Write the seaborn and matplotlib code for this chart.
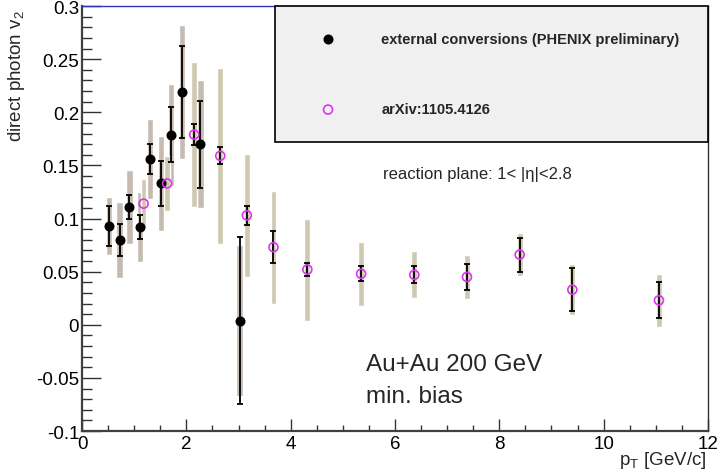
import numpy as np
import matplotlib
matplotlib.use("Agg")
import matplotlib.pyplot as plt
import seaborn as sns
from matplotlib.ticker import MultipleLocator, FuncFormatter

# external conversions (PHENIX preliminary)
ext_pt = [0.52, 0.72, 0.91, 1.11, 1.31, 1.51, 1.71, 1.91, 2.27, 3.02]
ext_v2 = [0.093, 0.080, 0.111, 0.092, 0.156, 0.133, 0.179, 0.219, 0.170, 0.004]
ext_stat = [0.019, 0.015, 0.011, 0.011, 0.014, 0.021, 0.026, 0.043, 0.041, 0.079]
ext_sys = [0.027, 0.036, 0.035, 0.033, 0.038, 0.045, 0.048, 0.063, 0.060, 0.071]

# arXiv:1105.4126
arx_pt = [1.18, 1.63, 2.15, 2.65, 3.16, 3.67, 4.32, 5.35, 6.37, 7.38, 8.39, 9.40, 11.06]
arx_v2 = [0.114, 0.133, 0.179, 0.159, 0.103, 0.073, 0.052, 0.048, 0.047, 0.045, 0.066, 0.033, 0.023]
arx_stat = [0.0, 0.0, 0.010, 0.008, 0.009, 0.015, 0.006, 0.007, 0.008, 0.012, 0.016, 0.020, 0.017]
arx_sys = [0.023, 0.026, 0.068, 0.083, 0.058, 0.053, 0.048, 0.030, 0.022, 0.021, 0.020, 0.024, 0.025]

sns.set_style("ticks")
plt.rcParams['font.family'] = ['Liberation Sans', 'DejaVu Sans']
plt.rcParams['mathtext.default'] = 'regular'
plt.rcParams['axes.unicode_minus'] = False

fig = plt.figure(figsize=(7.17, 4.77), dpi=100)
ax = fig.add_axes([0.1144, 0.0943, 0.873, 0.891])

# systematic bands
e_v, e_s = np.array(ext_v2), np.array(ext_sys)
a_v, a_s = np.array(arx_v2), np.array(arx_sys)
ax.bar(ext_pt, 2 * e_s, bottom=e_v - e_s, width=0.12, color='#c5bbb1', zorder=1)
ax.bar(arx_pt, 2 * a_s, bottom=a_v - a_s, width=0.11, color='#cec9b0', zorder=1)

# stat errors
ax.errorbar(ext_pt, ext_v2, yerr=ext_stat, fmt='none', ecolor='black',
            elinewidth=1.3, capsize=2.5, capthick=1.3, zorder=2)
a_st = np.array(arx_stat)
m = a_st > 0
ax.errorbar(np.array(arx_pt)[m], a_v[m], yerr=a_st[m], fmt='none', ecolor='black',
            elinewidth=1.3, capsize=2.5, capthick=1.3, zorder=2)

# markers
sns.scatterplot(x=ext_pt, y=ext_v2, ax=ax, color='black', s=52, linewidth=0,
                zorder=3, label='external conversions (PHENIX preliminary)')
sns.scatterplot(x=arx_pt, y=arx_v2, ax=ax, facecolor='none', edgecolor='#dd33ee',
                s=42, linewidth=1.2, zorder=3, label='arXiv:1105.4126')

ax.set_xlim(0, 12)
ax.set_ylim(-0.1, 0.3)
ax.xaxis.set_major_locator(MultipleLocator(2))
ax.xaxis.set_minor_locator(MultipleLocator(0.5))
ax.yaxis.set_major_locator(MultipleLocator(0.05))
ax.yaxis.set_minor_locator(MultipleLocator(0.01))
ax.yaxis.set_major_formatter(FuncFormatter(lambda v, p: '%g' % round(v, 3)))
ax.xaxis.set_major_formatter(FuncFormatter(lambda v, p: '%g' % v))

ax.tick_params(axis='both', which='both', direction='in', colors='#333333',
               labelcolor='black', labelsize=13.5, width=1)
ax.tick_params(axis='y', which='major', length=13.5, pad=2)
ax.tick_params(axis='y', which='minor', length=7)
ax.tick_params(axis='x', which='major', length=9, pad=3)
ax.tick_params(axis='x', which='minor', length=4.5)

for s in ['left', 'bottom']:
    ax.spines[s].set_color('#404040')
    ax.spines[s].set_linewidth(1.6)
ax.spines['right'].set_color('#333333')
ax.spines['right'].set_linewidth(1.0)
ax.spines['top'].set_color('#3333bb')
ax.spines['top'].set_linewidth(1.0)

ax.set_ylabel('direct photon v$_2$', loc='top', fontsize=13.5)
ax.yaxis.set_label_coords(-0.088, 0.993)
ax.set_xlabel('p$_T$ [GeV/c]', loc='right', fontsize=13.5)
ax.xaxis.set_label_coords(0.997, -0.042)

leg = ax.legend(loc='upper left', bbox_to_anchor=(0.308, 0.687, 0.692, 0.313),
                mode='expand', borderaxespad=0, fancybox=False, edgecolor='black',
                facecolor='#f0f0f0', framealpha=1,
                prop={'weight': 'bold', 'size': 10.5}, borderpad=1.75,
                labelspacing=3.9, handlelength=3.8, handletextpad=1.75)
leg.get_frame().set_linewidth(1.2)

ax.text(0.481, 0.605, 'reaction plane: 1< |\u03b7|<2.8', transform=ax.transAxes,
        fontsize=12, va='center', ha='left')
ax.text(0.454, 0.158, 'Au+Au 200 GeV', transform=ax.transAxes,
        fontsize=17.5, va='center', ha='left')
ax.text(0.454, 0.082, 'min. bias', transform=ax.transAxes,
        fontsize=17.5, va='center', ha='left')

fig.savefig('out.png', dpi=100)
